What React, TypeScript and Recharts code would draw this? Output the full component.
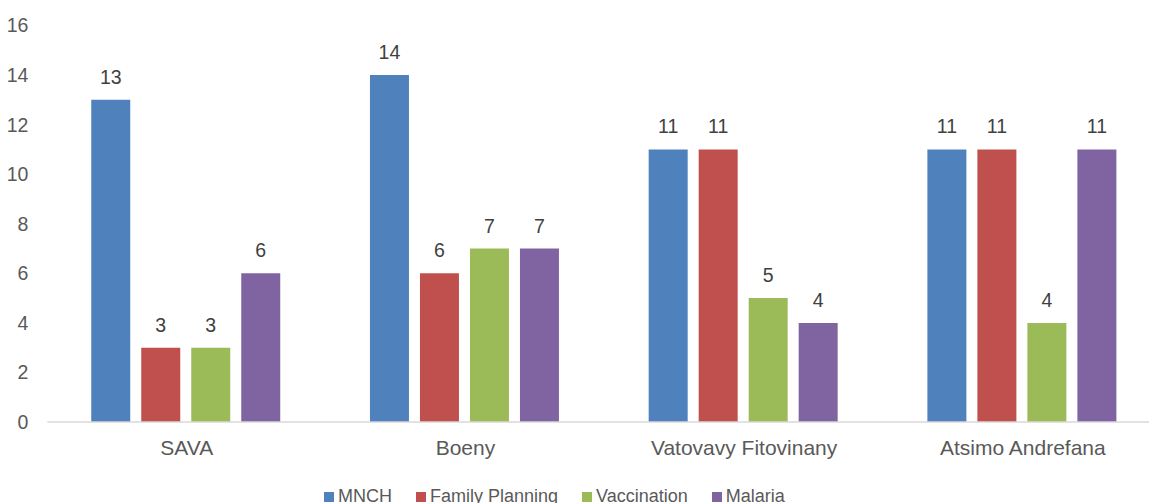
import React from "react";
import { BarChart, Bar, XAxis, YAxis, Legend, LabelList } from "recharts";

// Regions and the number of activities per programme area
const regions = ["SAVA", "Boeny", "Vatovavy Fitovinany", "Atsimo Andrefana"];
const mnch = [13, 14, 11, 11];
const familyPlanning = [3, 6, 11, 11];
const vaccination = [3, 7, 5, 4];
const malaria = [6, 7, 4, 11];
const yTicks = [0, 2, 4, 6, 8, 10, 12, 14, 16];

const series = [
  { key: "mnch", name: "MNCH", color: "#4F81BD" },
  { key: "familyPlanning", name: "Family Planning", color: "#C0504D" },
  { key: "vaccination", name: "Vaccination", color: "#9BBB59" },
  { key: "malaria", name: "Malaria", color: "#8064A2" },
];

const data = regions.map((region, i) => ({
  region,
  mnch: mnch[i],
  familyPlanning: familyPlanning[i],
  vaccination: vaccination[i],
  malaria: malaria[i],
}));

const FONT = '"Liberation Sans", Arial, Helvetica, sans-serif';

const renderLegend = () => (
  <div
    style={{
      height: 24,
      whiteSpace: "nowrap",
      fontFamily: FONT,
      fontSize: 18,
      color: "#595959",
      lineHeight: "normal",
    }}
  >
    {series.map((s, i) => (
      <span key={s.key} style={{ marginRight: i < series.length - 1 ? 24 : 0 }}>
        <span
          style={{
            display: "inline-block",
            width: 10,
            height: 10,
            background: s.color,
            marginRight: 4,
            verticalAlign: "baseline",
          }}
        />
        {s.name}
      </span>
    ))}
  </div>
);

export default function App() {
  return (
    <div
      style={{
        position: "fixed",
        left: 0,
        top: 0,
        width: 1149,
        height: 503,
        overflow: "hidden",
        background: "#fff",
      }}
    >
      <BarChart
        width={1170}
        height={520}
        data={data}
        margin={{ top: 25.5, right: 7.8, bottom: 0, left: 0 }}
        barCategoryGap="15.75%"
        barGap={11}
      >
        <XAxis
          dataKey="region"
          axisLine={{ stroke: "#D9D9D9", strokeWidth: 1.5 }}
          tickLine={false}
          tickSize={0}
          tickMargin={18}
          height={74}
          interval={0}
          tick={{ fill: "#595959", fontSize: 21, fontFamily: FONT }}
        />
        <YAxis
          domain={[0, 16]}
          ticks={yTicks}
          width={47.35}
          axisLine={false}
          tickLine={false}
          tickSize={0}
          tickMargin={19}
          tick={{ fill: "#595959", fontSize: 19.5, fontFamily: FONT }}
        />
        <Legend
          content={renderLegend}
          wrapperStyle={{ left: 324, top: 486, bottom: "auto", width: "auto" }}
        />
        {series.map((s) => (
          <Bar
            key={s.key}
            dataKey={s.key}
            name={s.name}
            fill={s.color}
            isAnimationActive={false}
          >
            <LabelList
              dataKey={s.key}
              position="top"
              offset={16}
              fill="#404040"
              fontSize={19.5}
              fontFamily={FONT}
            />
          </Bar>
        ))}
      </BarChart>
    </div>
  );
}
